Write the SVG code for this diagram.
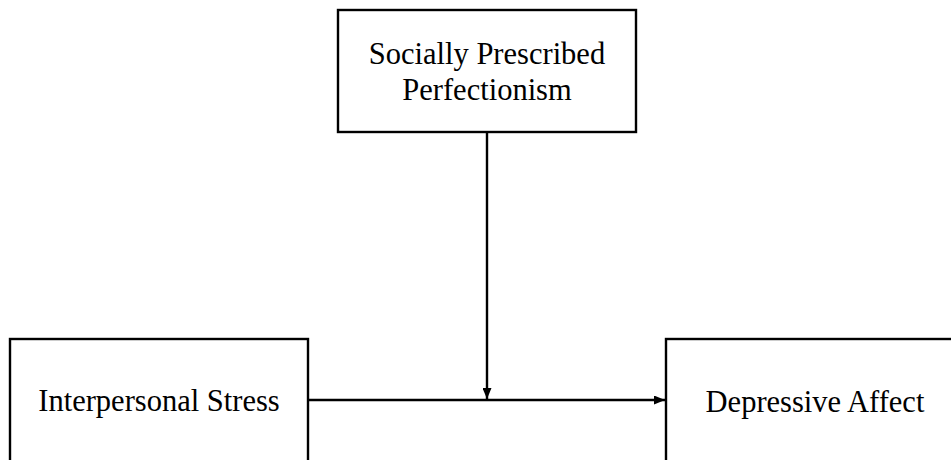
<svg xmlns="http://www.w3.org/2000/svg" width="951" height="460" viewBox="0 0 951 460">
  <style>
    .box { fill: #ffffff; stroke: #000000; stroke-width: 2.4; }
    .label { font-family: "Liberation Serif", "Times New Roman", serif; font-size: 30.5px; fill: #000000; text-anchor: middle; }
    .edge { stroke: #000000; stroke-width: 2.4; fill: none; }
  </style>
  <defs>
    <marker id="arrow" viewBox="0 0 11 9" refX="11" refY="4.5" markerWidth="11" markerHeight="9" markerUnits="userSpaceOnUse" orient="auto">
      <path d="M0,0 L11,4.5 L0,9 Z" fill="#000000"/>
    </marker>
  </defs>
  <rect width="951" height="460" fill="#ffffff"/>

  <g id="node-spp">
    <rect class="box" x="338" y="10" width="298" height="122"/>
    <text class="label" x="487" y="64">Socially Prescribed</text>
    <text class="label" x="487" y="100">Perfectionism</text>
  </g>

  <g id="node-stress">
    <rect class="box" x="10" y="339" width="298" height="130"/>
    <text class="label" x="159" y="411">Interpersonal Stress</text>
  </g>

  <g id="node-affect">
    <rect class="box" x="666" y="339" width="298" height="130"/>
    <text class="label" x="815" y="412">Depressive Affect</text>
  </g>

  <g id="connectors">
    <line class="edge" x1="308" y1="400" x2="665" y2="400" marker-end="url(#arrow)"/>
    <line class="edge" x1="487" y1="132" x2="487" y2="399" marker-end="url(#arrow)"/>
  </g>
</svg>
